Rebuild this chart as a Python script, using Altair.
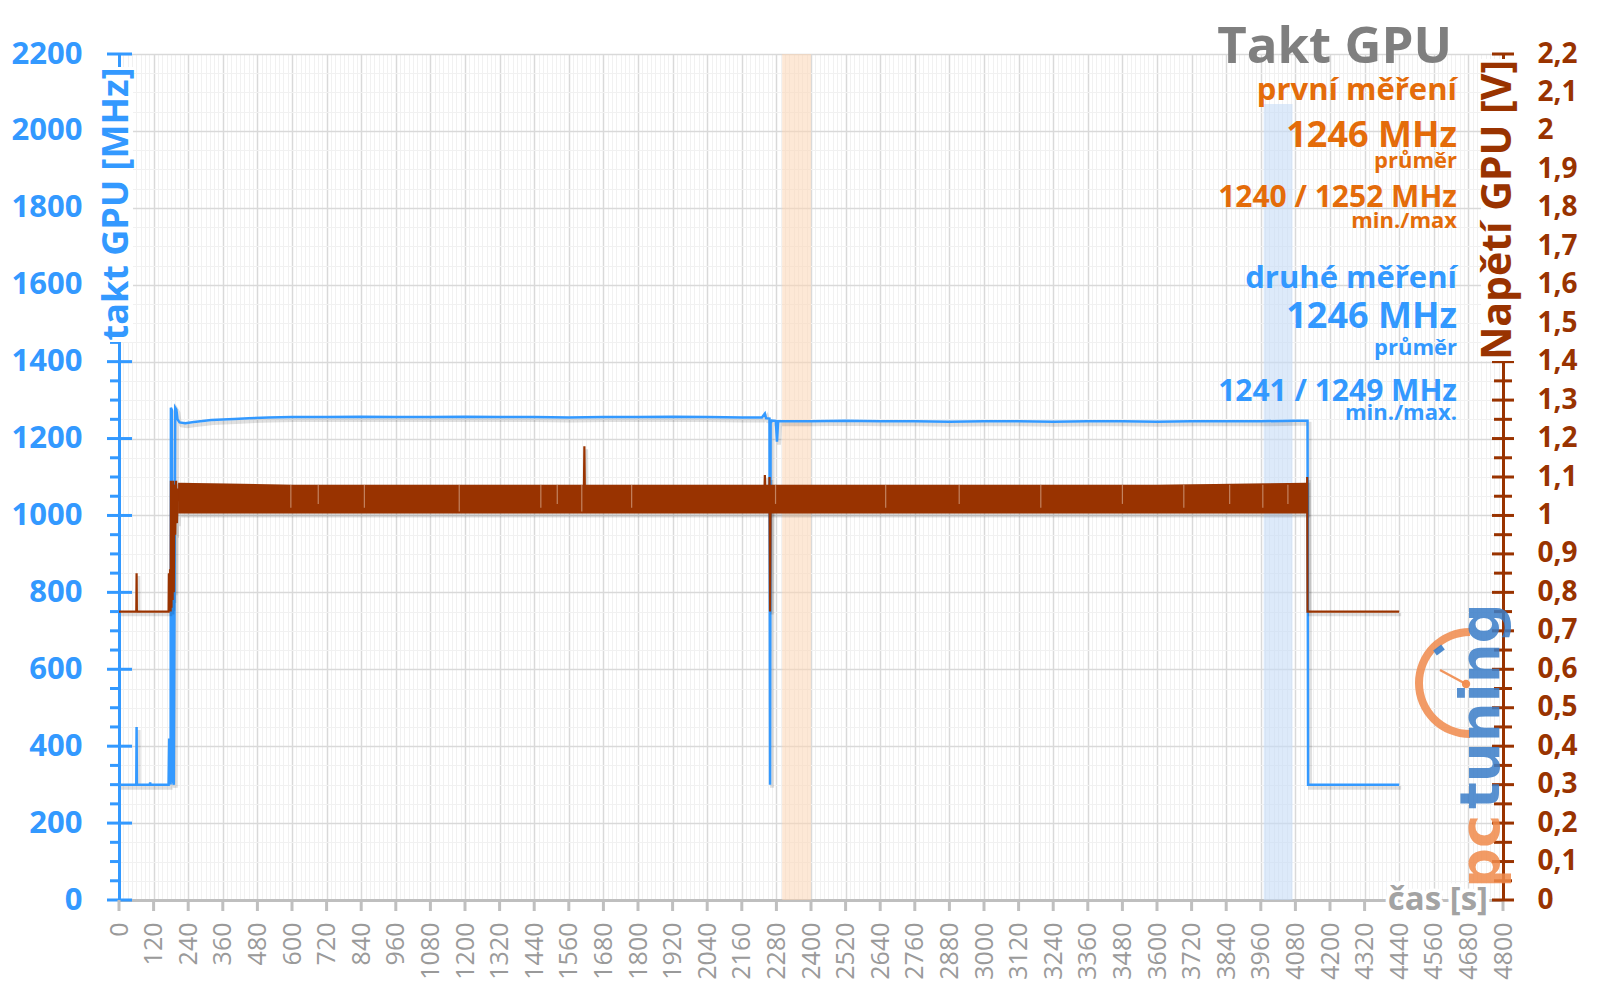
import math
import altair as alt
import pandas as pd

# ------------------------------------------------------------------ data
# GPU clock (blue), time [s] / MHz
takt_t = [0, 60, 61, 62, 107, 108, 109,
          172, 174, 176, 178, 179, 180, 183,
          187, 190, 195, 199, 203, 210, 230,
          260, 320, 400, 450, 520, 600, 720,
          840, 960, 1080, 1200, 1320, 1440, 1560,
          1680, 1800, 1920, 2040, 2160, 2230, 2240,
          2244, 2256, 2258, 2260, 2264, 2278, 2282,
          2286, 2400, 2520, 2640, 2760, 2880, 3000,
          3120, 3240, 3360, 3480, 3600, 3720, 3840,
          3960, 4080, 4122, 4124, 4440]
takt_mhz = [300, 300, 450, 300, 300, 306, 300,
            300, 420, 310, 350, 300, 1280, 1275,
            310, 300, 1280, 1275, 1250, 1242, 1240,
            1243, 1248, 1251, 1253, 1255, 1256, 1256,
            1257, 1256, 1256, 1257, 1256, 1256, 1255,
            1256, 1256, 1257, 1256, 1255, 1255, 1265,
            1253, 1252, 300, 1240, 1247, 1246, 1192,
            1245, 1245, 1246, 1245, 1245, 1244, 1245,
            1245, 1244, 1245, 1245, 1244, 1245, 1245,
            1245, 1246, 1246, 300, 300]

# GPU voltage (brown), time [s] / V  (idle parts, transitions and spikes)
napeti_t = [0, 60, 61, 62, 172, 173, 175, 177, 179,
            180, 182, 184, 186, 188, 190, 192, 195, 198,
            201, 204, 207, 1612, 1614, 1616, 2238, 2240,
            2242, 2255, 2256, 2258, 2260, 4120, 4121, 4122, 4440]
napeti_v = [0.75, 0.75, 0.85, 0.75, 0.75, 0.85, 0.75, 0.86, 0.75,
            1.09, 0.76, 1.08, 0.78, 1.09, 0.80, 1.08, 0.95, 1.09,
            0.98, 1.07, 1.04, 1.04, 1.18, 1.04, 1.04, 1.105,
            1.04, 1.04, 1.10, 0.75, 1.04, 1.04, 1.10, 0.75, 0.75]

# envelope of the fast-oscillating voltage under load
pasmo_t = [205, 600, 1200, 1800, 2400, 3000, 3600, 4121]
pasmo_min = [1.005, 1.005, 1.005, 1.005, 1.005, 1.005, 1.005, 1.005]
pasmo_max = [1.085, 1.08, 1.08, 1.08, 1.08, 1.08, 1.08, 1.085]

# short voltage dips inside the load band (light streaks)
dip_t = [596, 691, 851, 1180, 1463, 1520, 1605, 1778, 2277, 2659,
         2914, 3197, 3480, 3693, 3852, 3967, 4054]
dip_v = [1.02, 1.03, 1.02, 1.01, 1.02, 1.03, 1.01, 1.02, 1.03, 1.02,
         1.03, 1.02, 1.03, 1.02, 1.03, 1.02, 1.03]

# measurement windows (first = orange, second = blue)
okno1 = [2300, 2400]
okno2 = [3970, 4070]
okno2_horni = 2070

# axes
x_ticks = list(range(0, 4801, 120))
x_grid = list(range(0, 4801, 15))
mhz_all = list(range(0, 2201, 50))
mhz_major = list(range(0, 2201, 200))
mhz_minor = [v for v in mhz_all if v % 200]
volt_major = [round(i * 0.1, 1) for i in range(23)]
volt_minor = [round(0.05 + i * 0.1, 2) for i in range(22)]

# texts
nadpis = "Takt GPU"
prvni = ["první měření", "1246 MHz", "průměr", "1240 / 1252 MHz", "min./max"]
druhe = ["druhé měření", "1246 MHz", "průměr", "1241 / 1249 MHz", "min./max."]
osa_l = "takt GPU [MHz]"
osa_r = "Napětí GPU [V]"
osa_x = "čas [s]"

# ------------------------------------------------------------------ style
W, H = 1384, 846
BLUE = "#3399ff"
BROWN = "#993300"
ORANGE = "#e46c0a"
AX_GRAY = "#bfbfbf"
FONT = "Open Sans"

takt_df = pd.DataFrame({"t": takt_t, "v": takt_mhz})
napeti_df = pd.DataFrame({"t": napeti_t, "v": napeti_v})
pasmo_df = pd.DataFrame({"t": pasmo_t, "v": pasmo_min, "v2": pasmo_max})
dip_df = pd.DataFrame({"t": dip_t, "v": dip_v, "v2": [pasmo_max[1]] * len(dip_t)})
okno1_df = pd.DataFrame({"t": [okno1[0]], "t2": [okno1[1]], "v": [0], "v2": [2200]})
okno2_df = pd.DataFrame({"t": [okno2[0]], "t2": [okno2[1]], "v": [0], "v2": [okno2_horni]})

x_axis = alt.Axis(
    values=x_grid, title=None, grid=True,
    gridColor={"condition": {"test": "datum.value % 120 === 0", "value": "#d9d9d9"}, "value": "#f1f1f1"},
    gridWidth={"condition": {"test": "datum.value % 120 === 0", "value": 1.5}, "value": 1},
    labelExpr="datum.value % 120 === 0 ? datum.label : ''", format="d",
    labelAngle=270, labelAlign="right", labelBaseline="middle", labelPadding=22,
    labelFont=FONT, labelFontSize=25, labelColor="#9a9a9a", labelOverlap=False, labelFlush=False,
    ticks=False, tickSize=0, domainColor=AX_GRAY, domainWidth=3, zindex=0,
)
X = alt.X("t:Q", scale=alt.Scale(domain=[0, 4800], nice=False, zero=False), axis=x_axis)

yl_axis = alt.Axis(
    values=mhz_all, title=None, orient="left", grid=True,
    gridColor={"condition": {"test": "datum.value % 200 === 0", "value": "#d9d9d9"}, "value": "#f1f1f1"},
    gridWidth={"condition": {"test": "datum.value % 200 === 0", "value": 1.5}, "value": 1},
    labelExpr="datum.value % 200 === 0 ? datum.label : ''", format="d",
    labelFont=FONT, labelFontSize=31, labelFontWeight="bold", labelColor=BLUE,
    labelPadding=37, labelOverlap=False, labelFlush=False, labelBaseline="middle",
    ticks=False, tickSize=0, domainColor=BLUE, domainWidth=3, zindex=0,
)
YL = alt.Y("v:Q", scale=alt.Scale(domain=[0, 2200], nice=False, zero=False), axis=yl_axis)

yr_axis = alt.Axis(
    values=volt_major, title=None, orient="right", grid=False,
    labelExpr="replace(format(datum.value, '.1~f'), '.', ',')",
    labelFont=FONT, labelFontSize=28, labelFontWeight="bold", labelColor=BROWN,
    labelPadding=34, labelOverlap=False, labelFlush=False, labelBaseline="middle",
    ticks=False, tickSize=0, domainColor=BROWN, domainWidth=3, zindex=0,
)
YR = alt.Y("v:Q", scale=alt.Scale(domain=[0, 2.2], nice=False, zero=False), axis=yr_axis)

# ------------------------------------------------------------------ left (MHz) group
okno1_l = alt.Chart(okno1_df).mark_rect(color="#fbd5b5", opacity=0.55).encode(
    x=X, x2="t2", y=YL, y2="v2")
okno2_l = alt.Chart(okno2_df).mark_rect(color="#c6dcf7", opacity=0.6).encode(
    x=X, x2="t2", y=YL, y2="v2")
takt_shadow = alt.Chart(takt_df).mark_line(
    color="#000000", opacity=0.12, strokeWidth=4, xOffset=2, yOffset=3
).encode(x=X, y=YL)
takt_line = alt.Chart(takt_df).mark_line(color=BLUE, strokeWidth=2.5).encode(x=X, y=YL)
mhz_major_ticks = alt.Chart(pd.DataFrame({"v": mhz_major})).mark_rule(
    color=BLUE, strokeWidth=3).encode(y=YL, x=alt.value(-12), x2=alt.value(13))
mhz_minor_ticks = alt.Chart(pd.DataFrame({"v": mhz_minor})).mark_rule(
    color=BLUE, strokeWidth=3).encode(y=YL, x=alt.value(-9), x2=alt.value(0))
x_tick_marks = alt.Chart(pd.DataFrame({"t": x_ticks})).mark_rule(
    color=AX_GRAY, strokeWidth=3).encode(x=X, y=alt.value(H), y2=alt.value(H + 11))

left = alt.layer(okno1_l, okno2_l, takt_shadow, takt_line,
                 mhz_minor_ticks, mhz_major_ticks, x_tick_marks)

# ------------------------------------------------------------------ right (V) group
pasmo_shadow = alt.Chart(pasmo_df).mark_area(
    color="#000000", opacity=0.13, xOffset=3, yOffset=4).encode(x=X, y=YR, y2="v2")
napeti_shadow = alt.Chart(napeti_df).mark_line(
    color="#000000", opacity=0.12, strokeWidth=3.5, xOffset=2, yOffset=3).encode(x=X, y=YR)
napeti_line = alt.Chart(napeti_df).mark_line(color=BROWN, strokeWidth=2.2).encode(x=X, y=YR)
pasmo = alt.Chart(pasmo_df).mark_area(color=BROWN, opacity=1).encode(x=X, y=YR, y2="v2")
dips = alt.Chart(dip_df).mark_rule(color="#e6c4ae", strokeWidth=1.2, opacity=0.55).encode(
    x=X, y=YR, y2="v2")
v_major_ticks = alt.Chart(pd.DataFrame({"v": volt_major})).mark_rule(
    color=BROWN, strokeWidth=3).encode(y=YR, x=alt.value(W - 11), x2=alt.value(W + 11))
v_minor_ticks = alt.Chart(pd.DataFrame({"v": volt_minor})).mark_rule(
    color=BROWN, strokeWidth=3).encode(y=YR, x=alt.value(W - 9), x2=alt.value(W + 9))

right = alt.layer(pasmo_shadow, napeti_shadow, napeti_line, pasmo, dips,
                  v_minor_ticks, v_major_ticks)

# ------------------------------------------------------------------ overlays
ONE = alt.Data(values=[{}])


def text(s, x, y, size, color, align="right", angle=0, font=FONT, halo=False, opacity=1,
         baseline="alphabetic"):
    kw = dict(text=s, align=align, baseline=baseline, angle=angle, font=font,
              fontSize=size, fontWeight="bold", opacity=opacity)
    layers = []
    if halo:
        layers.append(alt.Chart(ONE).mark_text(color="white", stroke="white", strokeWidth=7, **kw)
                      .encode(x=alt.value(x), y=alt.value(y)))
    layers.append(alt.Chart(ONE).mark_text(color=color, **kw).encode(x=alt.value(x), y=alt.value(y)))
    return layers


def white_box(x1, x2, y1, y2):
    return alt.Chart(ONE).mark_rect(color="white").encode(
        x=alt.value(x1), x2=alt.value(x2), y=alt.value(y1), y2=alt.value(y2))


over = []
# axis titles with white boxes over the axis lines
over.append(white_box(-19, 14, 13, 288))
over += text(osa_l, -2, 150, 36, BLUE, align="center", angle=270, baseline="middle")
over.append(white_box(W - 22, W + 14, 5, 307))
over += text(osa_r, W - 4, 156, 41, BROWN, align="center", angle=270, baseline="middle")
over += text(osa_x, W - 15, 856, 33, "#a3a3a3", halo=True)

# header block
RX = 1338
over += text(nadpis, RX - 5, 9, 51, "#7f7f7f")
ys1 = [46, 93, 114, 153, 174]
ys2 = [234, 274, 301, 347, 366]
sizes = [31, 36, 22, 30, 22]
for s, y, fs in zip(prvni, ys1, sizes):
    over += text(s, RX, y, fs, ORANGE)
for s, y, fs in zip(druhe, ys2, sizes):
    over += text(s, RX, y, fs, BLUE)

# pctuning logo (decoration)
LOGO_O = "#f08a4b"
LOGO_B = "#3a7dc8"
over.append(alt.Chart(ONE).mark_arc(radius=55, radius2=47, theta=math.pi, theta2=2 * math.pi,
                                    color=LOGO_O, opacity=0.85)
            .encode(x=alt.value(1351), y=alt.value(629)))
over.append(alt.Chart(ONE).mark_rule(color=LOGO_O, strokeWidth=2.5, opacity=0.9)
            .encode(x=alt.value(1321), y=alt.value(616), x2=alt.value(1347), y2=alt.value(630)))
over.append(alt.Chart(ONE).mark_circle(color=LOGO_O, size=70, opacity=0.95)
            .encode(x=alt.value(1347), y=alt.value(630)))
over.append(alt.Chart(ONE).mark_rule(color=LOGO_B, strokeWidth=6, opacity=0.9)
            .encode(x=alt.value(1316), y=alt.value(599), x2=alt.value(1324), y2=alt.value(593)))
over += text("pc", 1380, 834, 56, LOGO_O, align="left", angle=270, font="DejaVu Sans", opacity=0.85)
over += text("tuning", 1380, 755, 56, LOGO_B, align="left", angle=270, font="DejaVu Sans", opacity=0.85)

overlay = alt.layer(*over)

chart = (
    alt.layer(left, right, overlay)
    .resolve_scale(y="independent")
    .properties(width=W, height=H,
                padding={"left": 119, "top": 54, "right": 97, "bottom": 99},
                autosize=alt.AutoSizeParams(type="none"),
                background="white")
    .configure_view(stroke=None)
)

chart.save("out.html", embed_options={"renderer": "svg", "actions": False})
